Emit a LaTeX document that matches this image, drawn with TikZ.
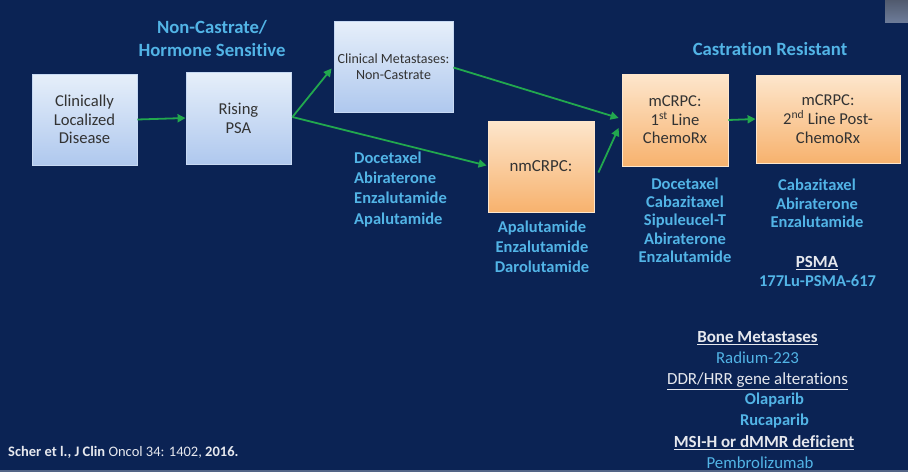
\documentclass[tikz,border=0pt]{standalone}
\usepackage{fontspec}
\setmainfont{Carlito}[Ligatures=NoCommon]
\usetikzlibrary{calc,arrows.meta}
\definecolor{bg}{HTML}{0B2354}
\definecolor{lblue}{HTML}{52B4E6}
\definecolor{btop}{HTML}{E6EFFA}
\definecolor{bbot}{HTML}{AFC8EE}
\definecolor{otop}{HTML}{FDE6CC}
\definecolor{obot}{HTML}{F7B26E}
\definecolor{arr}{HTML}{22A84E}
\definecolor{txt}{HTML}{333333}
\definecolor{wht}{HTML}{E6E8EE}
\tikzset{
  bluebox/.style={draw=bbot!70!white, line width=0.8pt, top color=btop, bottom color=bbot, text=txt, align=center, inner sep=0pt, font=\fontsize{16.6}{18.5}\selectfont},
  orangebox/.style={draw=otop, line width=0.8pt, top color=otop, bottom color=obot, text=txt, align=center, inner sep=0pt, font=\fontsize{16.6}{18.5}\selectfont},
  conn/.style={draw=arr, line width=1.8pt, -{Triangle[length=8pt,width=8pt]}},
  head/.style={text=lblue, font=\bfseries\fontsize{18.7}{23}\selectfont, align=center, inner sep=0pt},
  drug/.style={text=lblue, font=\bfseries\fontsize{16.5}{20.3}\selectfont, align=center, inner sep=0pt},
  drugtight/.style={text=lblue, font=\bfseries\fontsize{16.5}{18.3}\selectfont, align=center, inner sep=0pt},
  wlabel/.style={text=wht, font=\bfseries\fontsize{17}{18}\selectfont, inner sep=0pt},
  wlabelreg/.style={text=wht, font=\fontsize{17}{18}\selectfont, inner sep=0pt},
  blabelreg/.style={text=lblue, font=\fontsize{16.8}{18}\selectfont, inner sep=0pt},
  blabel/.style={text=lblue, font=\bfseries\fontsize{16.5}{18}\selectfont, inner sep=0pt},
}
\begin{document}
\begin{tikzpicture}[x=1pt,y=-1pt]
\fill[bg] (0,0) rectangle (908,472);
\useasboundingbox (0,0) rectangle (908,472);
\fill[bg!70!white] (0,469.5) rectangle (908,472);
\shade[top color=gray!60!bg, bottom color=bg!60!white] (885,0) rectangle (908,22);

% boxes
\node[bluebox, minimum width=105pt, minimum height=91pt] (cld) at (84.5,119.5) {Clinically\\Localized\\Disease};
\node[bluebox, minimum width=105pt, minimum height=92pt, font=\fontsize{16.6}{19}\selectfont] (psa) at (238.5,118) {Rising\\PSA};
\node[bluebox, minimum width=119pt, minimum height=91pt, font=\fontsize{14}{16}\selectfont] (cm) at (393.5,66.5) {Clinical Metastases:\\Non-Castrate};
\node[orangebox, minimum width=106pt, minimum height=91pt, font=\fontsize{16.9}{18.5}\selectfont] (nm) at (541,166.5) {nmCRPC:};
\node[orangebox, minimum width=106pt, minimum height=92pt] (m1) at (675,120) {mCRPC:\\1\textsuperscript{st} Line\\ChemoRx};
\node[orangebox, minimum width=144pt, minimum height=88pt, font=\fontsize{16.6}{19}\selectfont] (m2) at (828,119) {mCRPC:\\2\textsuperscript{nd} Line Post-\\ChemoRx};

% headings
\node[head] (h1) at (212,38.5) {Non-Castrate/\\Hormone Sensitive};
\node[head] (h2) at (770,49) {Castration Resistant};

% drug lists
\node[drug, align=left, anchor=north west] (d1) at (354,151.5) {Docetaxel\\Abiraterone\\Enzalutamide\\Apalutamide};
\node[drug, anchor=north] (d2) at (542,220.5) {Apalutamide\\Enzalutamide\\Darolutamide};
\node[drugtight, anchor=north] (d3) at (685,177.5) {Docetaxel\\Cabazitaxel\\Sipuleucel-T\\Abiraterone\\Enzalutamide};
\node[drugtight, anchor=north] (d4) at (817,179) {Cabazitaxel\\Abiraterone\\Enzalutamide};
\node[wlabel] (psma) at (817,263) {\underline{PSMA}};
\node[blabel] (lu) at (817.5,281) {177Lu-PSMA-617};

% lower labels
\node[wlabel] (bone) at (757.5,338) {\underline{Bone Metastases}};
\node[blabelreg] (ra) at (757.5,358) {Radium-223};
\node[wlabelreg] (ddr) at (757.5,381) {\underline{DDR/HRR gene alterations}};
\node[blabel] (ola) at (774.5,400) {Olaparib};
\node[blabel] (ruca) at (774.5,421) {Rucaparib};
\node[wlabel] (msi) at (764,443) {\underline{MSI-H or dMMR deficient}};
\node[blabelreg] (pem) at (760,463) {Pembrolizumab};

% citation
\node[text=wht, anchor=west, inner sep=0pt, font=\fontsize{14.5}{16}\selectfont] (cite) at (8,452) {\textbf{Scher et l., J Clin} Oncol 34: 1402, \textbf{2016.}};

% connectors
\draw[conn] (cld.east) -- (psa.west);
\draw[conn] ($(psa.east)+(1,-1)$) -- ($(cm.west)+(-2,2)$);
\draw[conn] ($(psa.east)+(1,-1)$) -- ($(nm.west)+(-1,-1)$);
\draw[conn] ($(cm.east)+(0,1)$) -- ($(m1.west)+(-3,-2)$);
\draw[conn] ($(nm.east)+(4,6)$) -- ($(m1.west)+(-3,8)$);
\draw[conn] (m1.east) -- (m2.west);
\end{tikzpicture}
\end{document}
